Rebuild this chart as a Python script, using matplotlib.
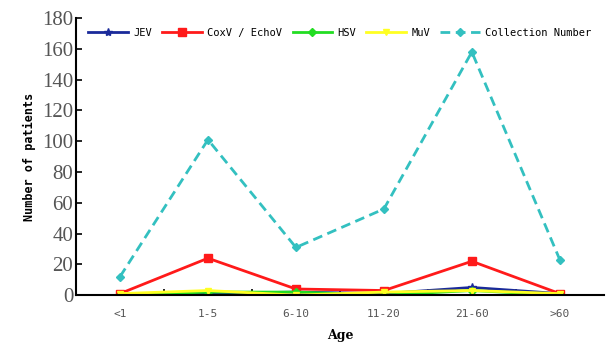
import matplotlib
matplotlib.use("Agg")
import matplotlib.pyplot as plt

ages = ["<1", "1-5", "6-10", "11-20", "21-60", ">60"]
jev = [0, 1, 2, 1, 5, 1]
coxv = [1, 24, 4, 3, 22, 1]
hsv = [0, 2, 2, 0, 3, 0]
muv = [1, 3, 0, 2, 3, 1]
collection = [12, 101, 31, 56, 158, 23]

fig = plt.figure(figsize=(6.13, 3.42), dpi=100)
ax = fig.add_axes([0.124, 0.137, 0.861, 0.81])
x = range(len(ages))
ax.plot(x, jev, color="#1a2a9a", lw=2, marker="*", ms=6, label="JEV")
ax.plot(x, coxv, color="#ff1a1a", lw=2, marker="s", ms=6, label="CoxV / EchoV")
ax.plot(x, hsv, color="#22dd22", lw=2, marker="D", ms=4, label="HSV")
ax.plot(x, muv, color="#ffff22", lw=2, marker="v", ms=5, label="MuV")
ax.plot(x, collection, color="#33c0c0", lw=2, ls=(0, (3.5, 2)), marker="D", ms=4, label="Collection Number")

ax.set_xlim(-0.5, 5.5)
ax.set_ylim(0, 180)
ax.set_yticks(range(0, 181, 20))
ax.set_xticks(list(x))
ax.set_xticklabels(ages, family="DejaVu Sans Mono", fontsize=8, color="#555555")
ax.set_xticks([i + 0.5 for i in range(5)], minor=True)
ax.tick_params(axis="x", which="major", length=0, pad=10)
ax.tick_params(axis="x", which="minor", direction="in", length=4, width=1.2)
ax.tick_params(axis="y", direction="in", length=4, width=1.2, pad=2)
for lab in ax.get_yticklabels():
    lab.set_family("Liberation Serif")
    lab.set_fontsize(15)
    lab.set_color("#555555")
for s in ["top", "right"]:
    ax.spines[s].set_visible(False)
ax.spines["left"].set_linewidth(1.5)
ax.spines["bottom"].set_linewidth(1.5)
ax.set_xlabel("Age", family="DejaVu Serif", fontweight="bold", fontsize=9, labelpad=7)
ax.set_ylabel("Number of patients", family="DejaVu Sans Mono", fontweight="bold", fontsize=8.5, labelpad=4)
leg = ax.legend(ncol=5, loc="upper center", bbox_to_anchor=(0.5, 1.0), frameon=False,
                prop={"family": "DejaVu Sans Mono", "size": 7.5}, handlelength=3.8,
                columnspacing=1.0, handletextpad=0.5)
fig.savefig("out.png", dpi=100)
